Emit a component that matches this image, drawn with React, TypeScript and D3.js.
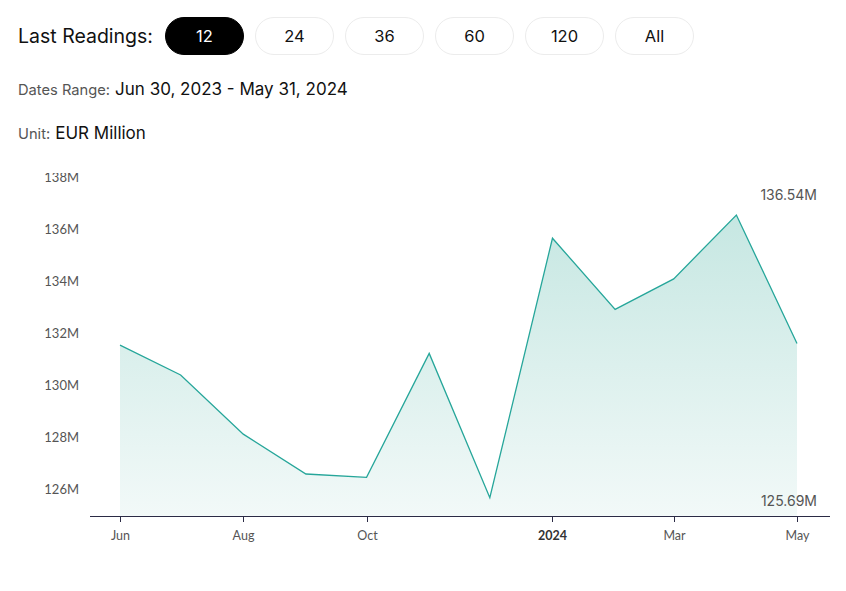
import React from "react";
import * as d3 from "d3";

const months = ["2023-06-01","2023-07-01","2023-08-01","2023-09-01","2023-10-01","2023-11-01","2023-12-01","2024-01-01","2024-02-01","2024-03-01","2024-04-01","2024-05-01"];
const values = [131.55, 130.40, 128.13, 126.60, 126.47, 131.23, 125.69, 135.65, 132.92, 134.09, 136.54, 131.61];
const yTicks = [126, 128, 130, 132, 134, 136, 138];
const xTickDates = ["2023-06-01","2023-08-01","2023-10-01","2024-01-01","2024-03-01","2024-05-01"];
const xTickLabels = ["Jun","Aug","Oct","2024","Mar","May"];
const buttons = ["12","24","36","60","120","All"];

const W = 846, H = 591;

export default function App() {
  const parse = d3.timeParse("%Y-%m-%d");
  const dates = months.map((m) => parse(m) as Date);
  const data = dates.map((d, i) => ({ d, v: values[i] }));

  const x = d3.scaleTime().domain([dates[0], dates[dates.length - 1]]).range([120, 797]);
  const y = d3.scaleLinear().domain([125, 138]).range([515.7, 177]);

  const line = d3.line<{ d: Date; v: number }>().x((p) => x(p.d)).y((p) => y(p.v));
  const area = d3.area<{ d: Date; v: number }>().x((p) => x(p.d)).y0(y(125)).y1((p) => y(p.v));

  const maxV = d3.max(values) as number;
  const minV = d3.min(values) as number;

  const headFont = "Inter, 'Open Sans', sans-serif";
  const axisFont = "Lato, sans-serif";

  return (
    <div style={{ position: "absolute", left: 0, top: 0, width: W, height: H, background: "#fff" }}>
      <svg width={W} height={H} style={{ display: "block" }}>
        <defs>
          <linearGradient id="areaGrad" x1="0" x2="0" y1={y(maxV)} y2={y(125)} gradientUnits="userSpaceOnUse">
            <stop offset="0" stopColor="#c6e7e2" />
            <stop offset="1" stopColor="#f2f9f8" />
          </linearGradient>
          <clipPath id="plotClip">
            <rect x={0} y={173} width={W} height={H - 173} />
          </clipPath>
        </defs>

        {/* header */}
        <text x={18} y={43} fontFamily={headFont} fontSize={19.5} fill="#111">Last Readings:</text>
        {buttons.map((b, i) => {
          const bx = 165 + i * 90;
          const active = i === 0;
          return (
            <g key={b}>
              <rect x={bx + 0.5} y={17.5} width={78} height={37} rx={18.5}
                fill={active ? "#000" : "#fff"} stroke={active ? "#000" : "#ececec"} />
              <text x={bx + 39.5} y={42} textAnchor="middle" fontFamily={headFont} fontSize={16.5}
                fill={active ? "#fff" : "#111"}>{b}</text>
            </g>
          );
        })}
        <text x={18} y={95} fontFamily={headFont} fontSize={14.7} fill="#555">Dates Range:
          <tspan fontSize={17} fill="#111" dx={5}>Jun 30, 2023 - May 31, 2024</tspan>
        </text>
        <text x={18} y={139} fontFamily={headFont} fontSize={14.7} fill="#555">Unit:
          <tspan fontSize={17} fill="#111" dx={5}>EUR Million</tspan>
        </text>

        <g clipPath="url(#plotClip)">
          {yTicks.map((t) => (
            <text key={t} x={79} y={y(t) + 4.5} textAnchor="end" fontFamily={axisFont} fontSize={13} fill="#555">{t}M</text>
          ))}
          <path d={area(data) as string} fill="url(#areaGrad)" />
          <path d={line(data) as string} fill="none" stroke="#26a69a" strokeWidth={1.3} />
        </g>

        {/* x axis */}
        <line x1={90} x2={830} y1={516.5} y2={516.5} stroke="#2b2b45" strokeWidth={1} />
        {xTickDates.map((t, i) => {
          const xx = Math.round(x(parse(t) as Date)) + 0.5;
          return (
            <g key={t}>
              <line x1={xx} x2={xx} y1={516} y2={522} stroke="#2b2b45" />
              <text x={xx} y={540} textAnchor="middle" fontFamily={axisFont} fontSize={12.5}
                fontWeight={xTickLabels[i] === "2024" ? 700 : 400} fill={xTickLabels[i] === "2024" ? "#333" : "#555"}>{xTickLabels[i]}</text>
            </g>
          );
        })}

        <text x={817} y={200} textAnchor="end" fontFamily={headFont} fontSize={14} fill="#555">{maxV.toFixed(2)}M</text>
        <text x={817} y={506} textAnchor="end" fontFamily={headFont} fontSize={14} fill="#555">{minV.toFixed(2)}M</text>
      </svg>
    </div>
  );
}
